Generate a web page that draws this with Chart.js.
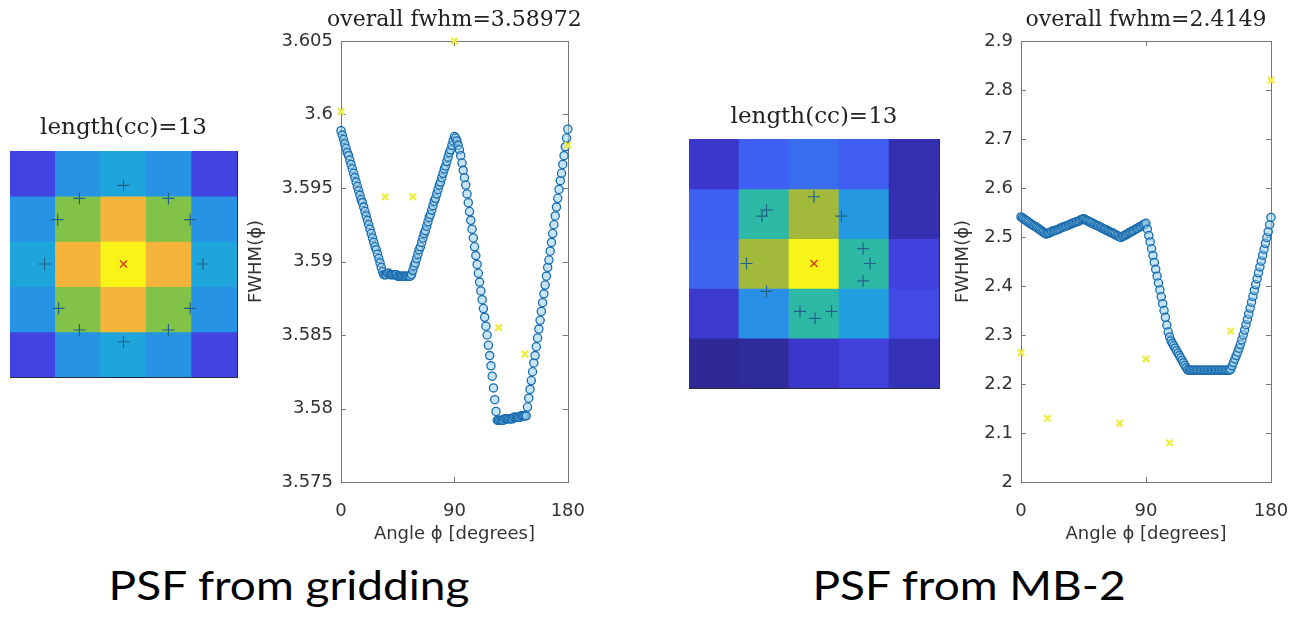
<!DOCTYPE html>
<html>
<head>
<meta charset="utf-8">
<script src="https://cdn.jsdelivr.net/npm/chart.js@4.4.0/dist/chart.umd.min.js"></script>
<style>
  body { margin: 0; background: #fff; width: 1300px; height: 619px; position: relative; overflow: hidden; }
  .box { position: absolute; }
  .cap { position: absolute; font-family: Lato, "Open Sans", sans-serif; font-size: 40px; line-height: 48px; color: #000; white-space: nowrap; transform: translateX(-50%) scaleX(1.15); }
</style>
</head>
<body>
<div class="box" style="left:0px;top:100px;width:250px;height:290px"><canvas id="heatA" width="250" height="290"></canvas></div>
<div class="box" style="left:240px;top:0px;width:355px;height:560px"><canvas id="lineA" width="355" height="560"></canvas></div>
<div class="box" style="left:680px;top:90px;width:270px;height:310px"><canvas id="heatB" width="270" height="310"></canvas></div>
<div class="box" style="left:946px;top:0px;width:354px;height:560px"><canvas id="lineB" width="354" height="560"></canvas></div>
<div class="cap" style="left:289px;top:561px">PSF from gridding</div>
<div class="cap" style="left:969px;top:561px">PSF from MB-2</div>

<script>
(function(){
    "use strict";

    // ---- data ----
    var heatTitle = "length(cc)=13";
    var leftTitle = "overall fwhm=3.58972";
    var rightTitle = "overall fwhm=2.4149";

    // PSF intensities, rows top to bottom (0..1)
    var gridPsf = [
        [0.20, 0.42, 0.48, 0.42, 0.20],
        [0.42, 0.68, 0.88, 0.68, 0.42],
        [0.48, 0.88, 1.00, 0.88, 0.48],
        [0.42, 0.68, 0.88, 0.68, 0.42],
        [0.20, 0.42, 0.48, 0.42, 0.20]
    ];
    var mbPsf = [
        [0.11, 0.30, 0.33, 0.29, 0.05],
        [0.30, 0.58, 0.75, 0.44, 0.06],
        [0.31, 0.75, 1.00, 0.58, 0.18],
        [0.12, 0.41, 0.58, 0.46, 0.22],
        [0.01, 0.02, 0.11, 0.17, 0.07]
    ];

    // contour points (+) and peak (x) on the PSF grids
    var gridCcX = [2.50, 1.53, 3.49, 1.05, 3.97, 0.76, 4.25, 1.07, 3.97, 1.53, 3.49, 2.50];
    var gridCcY = [4.24, 3.95, 3.95, 3.48, 3.48, 2.50, 2.50, 1.52, 1.52, 1.04, 1.04, 0.78];
    var mbCcX = [2.50, 1.55, 1.46, 3.05, 3.48, 1.15, 3.62, 3.48, 1.55, 2.22, 2.52, 2.85];
    var mbCcY = [3.84, 3.57, 3.45, 3.45, 2.80, 2.50, 2.50, 2.15, 1.94, 1.54, 1.40, 1.54];
    var peakX = [2.5];
    var peakY = [2.5];

    // angle in degrees, one sample per degree
    var angles = [];
    for (var a = 0; a <= 180; a++) angles.push(a);

    var leftFwhm = [
        3.5989,3.5986,3.5983,3.5980,3.5977,3.5974,3.5972,3.5969,3.5966,3.5963,
        3.5960,3.5957,3.5954,3.5951,3.5948,3.5945,3.5942,3.5940,3.5937,3.5934,
        3.5931,3.5928,3.5925,3.5922,3.5919,3.5916,3.5913,3.5910,3.5908,3.5905,
        3.5902,3.5899,3.5896,3.5893,3.5891,
        3.5891,3.5891,3.5892,3.5892,3.5891,3.5891,3.5891,3.5891,3.5891,3.5891,
        3.5890,3.5890,3.5890,3.5890,3.5890,3.5890,3.5890,3.5890,3.5890,3.5890,
        3.5890,3.5891,
        3.5894,3.5897,3.5899,
        3.5902,3.5905,3.5908,3.5910,3.5913,3.5916,3.5919,3.5921,3.5924,3.5927,
        3.5930,3.5932,3.5935,3.5938,3.5941,3.5943,3.5946,3.5949,3.5952,3.5954,
        3.5957,3.5960,3.5963,3.5965,3.5968,3.5971,3.5974,3.5976,3.5979,3.5982,
        3.5985,3.5984,3.5982,3.5979,3.5976,3.5972,3.5967,3.5962,3.5957,3.5952,
        3.5946,3.5940,3.5934,3.5928,3.5922,3.5916,3.5910,3.5904,3.5898,3.5892,
        3.5886,3.5880,3.5874,3.5868,3.5862,3.5856,3.5850,3.5843,3.5836,3.5829,
        3.5822,3.5814,3.5806,3.5798,3.5792,3.5792,3.5792,3.5792,3.5792,3.5792,
        3.5793,3.5793,3.5793,3.5793,3.5793,3.5793,3.5793,3.5794,3.5794,3.5794,
        3.5794,3.5794,3.5794,3.5795,3.5795,3.5795,3.5795,3.5795,3.5801,3.5807,
        3.5813,3.5819,3.5825,3.5831,3.5836,3.5842,3.5848,3.5854,3.5860,3.5866,
        3.5872,3.5878,3.5884,3.5890,3.5896,3.5901,3.5907,3.5913,3.5919,3.5925,
        3.5931,3.5937,3.5943,3.5949,3.5955,3.5960,3.5966,3.5972,3.5978,3.5984,3.5990
    ];
    var rightFwhm = [
        2.541,2.539,2.537,2.535,2.533,2.531,2.529,2.527,2.525,2.523,
        2.522,2.520,2.518,2.516,2.514,2.512,2.510,2.508,2.506,2.507,
        2.508,2.509,2.511,2.512,2.513,2.514,2.515,2.516,2.517,2.519,
        2.520,2.521,2.522,2.523,2.524,2.525,2.527,2.528,2.529,2.530,
        2.531,2.532,2.533,2.535,2.536,2.537,2.536,2.534,2.533,2.531,
        2.530,2.529,2.527,2.526,2.524,2.523,2.522,2.520,2.519,2.517,
        2.516,2.515,2.513,2.512,2.510,2.509,2.508,2.506,2.505,2.503,
        2.502,2.500,2.499,2.501,2.502,2.504,2.505,2.507,2.509,2.510,
        2.512,2.513,2.515,2.517,2.518,2.520,2.521,2.523,2.525,2.526,
        2.528,2.516,2.503,2.490,2.476,2.462,2.448,2.434,2.420,2.406,
        2.392,2.378,2.364,2.350,2.336,2.320,2.306,2.296,2.288,2.283,
        2.278,2.273,2.268,2.263,2.258,2.253,2.248,2.243,2.238,2.233,
        2.229,2.228,2.228,2.228,2.228,2.228,2.228,2.228,2.228,2.228,
        2.228,2.228,2.228,2.228,2.228,2.228,2.228,2.228,2.228,2.228,
        2.228,2.228,2.228,2.228,2.228,2.228,2.228,2.228,2.228,2.228,
        2.228,2.230,2.237,2.244,2.251,2.258,2.265,2.273,2.281,2.290,
        2.300,2.310,2.321,2.332,2.343,2.355,2.367,2.379,2.391,2.403,
        2.415,2.427,2.439,2.451,2.463,2.475,2.487,2.499,2.511,2.525,2.540
    ];

    // per-direction estimates (yellow x)
    var leftDirAngles = [0, 35, 57, 90, 125, 146, 180];
    var leftDirFwhm = [3.6002, 3.5944, 3.5944, 3.6050, 3.5855, 3.5837, 3.5979];
    var rightDirAngles = [0, 19, 71, 90, 107, 151, 180];
    var rightDirFwhm = [2.264, 2.130, 2.120, 2.251, 2.080, 2.308, 2.820];

    var angleTicks = [0, 90, 180];
    var leftTicks = [3.575, 3.58, 3.585, 3.59, 3.595, 3.6, 3.605];
    var rightTicks = [2, 2.1, 2.2, 2.3, 2.4, 2.5, 2.6, 2.7, 2.8, 2.9];

    // ---- helpers ----
    var ramp = [
        [0.00, [46, 40, 144]], [0.10, [58, 54, 200]], [0.20, [66, 68, 226]],
        [0.30, [63, 96, 242]], [0.40, [42, 140, 232]], [0.48, [30, 166, 220]],
        [0.58, [46, 185, 166]], [0.68, [130, 194, 72]], [0.76, [168, 184, 58]],
        [0.88, [245, 180, 58]], [1.00, [248, 244, 24]]
    ];
    function parula(t) {
        for (var i = 1; i < ramp.length; i++) {
            if (t <= ramp[i][0]) {
                var a = ramp[i - 1], b = ramp[i];
                var f = (t - a[0]) / (b[0] - a[0]);
                var c = a[1].map(function (v, k) { return Math.round(v + (b[1][k] - v) * f); });
                return "rgb(" + c.join(",") + ")";
            }
        }
        return "rgb(248,244,24)";
    }
    function pts(xs, ys) {
        return xs.map(function (x, i) { return { x: x, y: ys[i] }; });
    }

    var framePlugin = {
        id: "frame",
        beforeDatasetsDraw: function (chart, args, opts) {
            var ca = chart.chartArea, ctx = chart.ctx;
            ctx.save();
            ctx.strokeStyle = opts.color || "#777";
            ctx.lineWidth = 1;
            ctx.strokeRect(Math.round(ca.left) + 0.5, Math.round(ca.top) + 0.5,
                Math.round(ca.right - ca.left), Math.round(ca.bottom - ca.top));
            if (opts.ticks) {
                var xs = chart.scales.x, ys = chart.scales.y;
                ctx.beginPath();
                xs.ticks.forEach(function (t) {
                    var px = Math.round(xs.getPixelForValue(t.value)) + 0.5;
                    ctx.moveTo(px, ca.bottom); ctx.lineTo(px, ca.bottom - 5);
                    ctx.moveTo(px, ca.top); ctx.lineTo(px, ca.top + 5);
                });
                ys.ticks.forEach(function (t) {
                    var py = Math.round(ys.getPixelForValue(t.value)) + 0.5;
                    ctx.moveTo(ca.left, py); ctx.lineTo(ca.left + 5, py);
                    ctx.moveTo(ca.right, py); ctx.lineTo(ca.right - 5, py);
                });
                ctx.stroke();
            }
            ctx.restore();
        },
        afterDraw: function (chart, args, opts) {
            // plot title centred over the axes box, free to run past it
            if (!opts.title) return;
            var ca = chart.chartArea, ctx = chart.ctx;
            ctx.save();
            ctx.font = '22px "DejaVu Serif"';
            ctx.fillStyle = "#222";
            ctx.textAlign = "center";
            ctx.textBaseline = "alphabetic";
            ctx.fillText(opts.title, (ca.left + ca.right) / 2, ca.top - 15);
            ctx.restore();
        }
    };

    function heatChart(id, psf, ccX, ccY, pad) {
        var datasets = [
            { type: "scatter", data: pts(peakX, peakY), pointStyle: "crossRot", pointRadius: 5,
              borderColor: "#d8401c", borderWidth: 1.5, clip: false },
            { type: "scatter", data: pts(ccX, ccY), pointStyle: "cross", pointRadius: 6,
              borderColor: "#1f6488", borderWidth: 1.2, clip: false }
        ];
        psf.forEach(function (row, r) {
            datasets.push({
                type: "bar",
                data: row.map(function (v, c) { return { x: c + 0.5, y: [4 - r, 5 - r] }; }),
                backgroundColor: row.map(parula),
                borderWidth: 0,
                grouped: false,
                barPercentage: 1,
                categoryPercentage: 1
            });
        });
        return new Chart(document.getElementById(id), {
            type: "bar",
            data: { datasets: datasets },
            options: {
                responsive: false,
                animation: false,
                layout: { padding: pad.layout },
                plugins: {
                    legend: { display: false },
                    tooltip: { enabled: false },
                    title: { display: true, text: heatTitle, color: "#222",
                             font: { family: "DejaVu Serif", size: 23, weight: "normal" },
                             padding: pad.title },
                    frame: { color: "#2a2a3a", ticks: false }
                },
                scales: {
                    x: { type: "linear", display: false, min: 0, max: 5, offset: false, ticks: { stepSize: 1 } },
                    y: { type: "linear", display: false, min: 0, max: 5, ticks: { stepSize: 1 } }
                }
            },
            plugins: [framePlugin]
        });
    }

    function lineChart(id, title, vals, dirX, dirY, yMin, yMax, yTicks, dec, pad) {
        return new Chart(document.getElementById(id), {
            type: "scatter",
            data: {
                datasets: [
                    { data: pts(dirX, dirY), pointStyle: "crossRot", pointRadius: 4.5,
                      borderColor: "#eded48", borderWidth: 2.4, clip: false },
                    { data: pts(angles, vals), pointStyle: "circle", pointRadius: 4.1,
                      borderColor: "#1b6cae", backgroundColor: "rgba(150,205,235,0.55)",
                      borderWidth: 1.3, clip: false }
                ]
            },
            options: {
                responsive: false,
                animation: false,
                layout: { padding: pad.layout },
                plugins: {
                    legend: { display: false },
                    tooltip: { enabled: false },
                    title: { display: false },
                    frame: { color: "#777", ticks: true, title: title }
                },
                scales: {
                    x: {
                        type: "linear", min: 0, max: 180,
                        afterBuildTicks: function (s) { s.ticks = angleTicks.map(function (v) { return { value: v }; }); },
                        afterFit: function (s) { s.height = 72; },
                        grid: { display: false, drawTicks: false },
                        border: { display: false },
                        ticks: { color: "#333", padding: 10, font: { family: "DejaVu Sans", size: 18, lineHeight: 2.1 } },
                        title: { display: true, text: "Angle \u03d5 [degrees]", color: "#333",
                                 font: { family: "DejaVu Sans", size: 18 }, padding: { top: 0, bottom: 9 } }
                    },
                    y: {
                        type: "linear", min: yMin, max: yMax,
                        afterBuildTicks: function (s) { s.ticks = yTicks.map(function (v) { return { value: v }; }); },
                        afterFit: function (s) { s.width = pad.yWidth; },
                        grid: { display: false, drawTicks: false },
                        border: { display: false },
                        ticks: { color: "#333", padding: 8, font: { family: "DejaVu Sans", size: 18 },
                                 callback: function (v) { return String(+Number(v).toFixed(dec)); } },
                        title: { display: true, text: "FWHM(\u03d5)", color: "#333",
                                 font: { family: "DejaVu Sans", size: 18 }, padding: { top: pad.yTitle, bottom: 0 } }
                    }
                }
            },
            plugins: [framePlugin]
        });
    }

    heatChart("heatA", gridPsf, gridCcX, gridCcY,
        { layout: { left: 10, right: 13, top: 0, bottom: 13 }, title: { top: 14.5, bottom: 8.9 } });
    heatChart("heatB", mbPsf, mbCcX, mbCcY,
        { layout: { left: 9, right: 11, top: 0, bottom: 12 }, title: { top: 13.5, bottom: 7.9 } });
    lineChart("lineA", leftTitle, leftFwhm, leftDirAngles, leftDirFwhm, 3.575, 3.605, leftTicks, 3,
        { layout: { left: 0, right: 0, top: 41, bottom: 6 }, yWidth: 101, yTitle: 6 });
    lineChart("lineB", rightTitle, rightFwhm, rightDirAngles, rightDirFwhm, 2, 2.9, rightTicks, 1,
        { layout: { left: 0, right: 29, top: 41, bottom: 6 }, yWidth: 75, yTitle: 7 });
})();
</script>
</body>
</html>
